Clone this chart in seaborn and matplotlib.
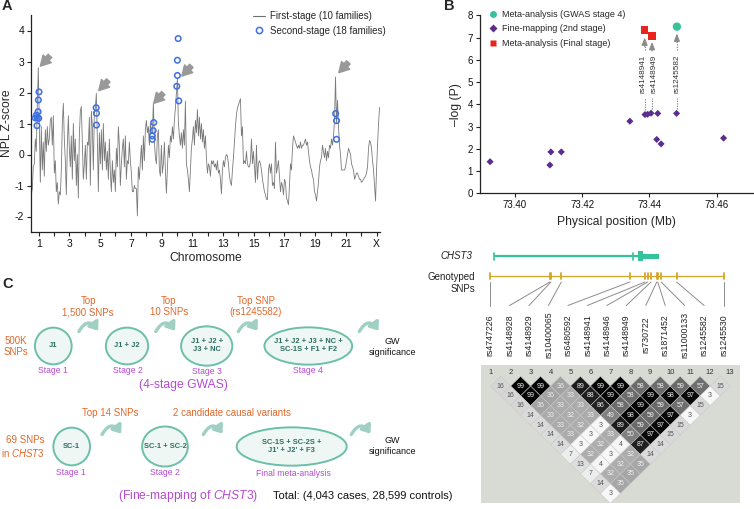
import numpy as np
import pandas as pd
import matplotlib
matplotlib.use("Agg")
import matplotlib.pyplot as plt
import seaborn as sns
from matplotlib.patches import Ellipse, Polygon, Rectangle, FancyArrowPatch
from matplotlib.lines import Line2D

# ---------------- Panel A data ----------------
npl_start, npl_end = 0.52, 23.19
npl_z = [
    -1.3, -1.1, -0.4, -0.3, 0.5, 0.1, 1.6, 2.8, 1.0, -0.9,
    0.9, -0.5, 0.4, -0.7, 0.8, 0.1, 0.9, 0.3, 0.5, 1.1,
    1.2, 0.3, 1.25, -0.6, -0.2, -1.2, -0.9, -1.6, -1.2, -1.3,
    -0.5, 1.0, 1.65, 0.5, -0.2, -1.3, 0.3, 1.25, 0.2, -0.4,
    0.6, -0.8, 1.0, -0.2, 0.5, -1.0, 0.0, -1.4, 0.6, 1.4,
    1.55, 0.4, -0.8, -0.3, 0.3, -0.8, 0.4, 0.3, 1.2, -1.0,
    1.4, 0.9, -0.5, 1.3, 1.5, 1.97, 0.5, -1.2, 0.7, -0.3,
    0.8, -0.5, 1.0, -0.2, 0.4, -0.5, 0.1, -0.8, 0.5, -0.6,
    -1.2, -0.2, -0.9, -0.5, -1.2, 0.2, -0.4, 0.9, 0.3, -1.0,
    -0.3, 0.2, 0.5, -0.4, 0.6, -0.8, -0.2, -0.3, 0.4, -0.2,
    -0.6, -1.2, -1.2, -1.0, -1.1, -1.1, -1.98, -0.4, -0.8, -0.2,
    0.3, -0.5, 0.6, -0.2, 0.8, 1.1, 0.7, 0.9, 0.3, 1.0,
    0.8, 0.7, 1.68, 0.4, -0.1, -0.3, 0.6, 0.8, -0.5, -0.7,
    0.3, -0.6, -0.3, 0.4, -0.5, -1.25, -0.5, 0.3, -0.1, 0.6,
    0.4, 0.9, 0.5, 1.1, 1.5, 2.0, 2.45, 1.0, 0.6, 0.3,
    0.7, 0.2, 0.8, 0.3, 1.72, -0.3, -0.5, -0.8, -1.2, -0.5,
    0.2, 0.5, 0.9, 0.3, 1.1, 0.7, 1.45, 0.6, 1.2, 0.5,
    1.0, 0.4, 0.8, 0.2, 0.6, -0.1, -0.6, -0.3, -0.4, -0.7,
    -0.2, -0.3, -0.2, -0.4, -0.3, -0.5, -0.2, -0.6, -0.5, -0.8,
    -1.27, -0.5, -0.2, -0.4, -0.1, 0.0, -0.05, -0.3, -0.7, -0.9,
    -1.0, -0.5, -0.1, 0.4, 0.9, 1.3, 1.5, 1.6, 1.7, 1.8,
    0.6, 0.9, -0.3, -0.2, -0.3, 0.1, -0.3, -0.4, -0.4, -0.2,
    0.5, -0.3, 0.1, -0.4, -0.9, 0.3, -0.8, -0.3, -0.2, -0.3,
    -0.5, -0.8, -1.0, -1.2, -1.3, -1.45, -1.45, -0.5, -0.3, -0.6,
    -0.3, -1.0, -0.9, -1.1, 0.4, -0.6, -0.4, -0.2, -0.7, -1.2,
    -0.9, -1.0, -1.3, -0.8, -0.9, -1.4, -1.5, -1.62, -1.0, -0.3,
    -0.5, 0.2, 0.6, 0.5, 0.4, 0.3, 0.2, 0.3, 0.2, 0.4,
    0.2, 0.3, 0.3, 0.4, 0.5, 0.3, 0.4, 0.1, -0.2, -0.4,
    -0.5, -0.7, -0.8, -1.2, -1.3, -1.5, -1.2, -0.9, -0.4, -0.2,
    -0.1, 0.3, 0.1, -0.1, 0.2, -0.2, 0.1, -0.1, 0.3, 0.2,
    0.5, 0.3, 0.6, 1.1, 2.5, 1.0, 1.75, 0.9, 0.3, 0.0,
    -0.5, -0.5, -0.5, -0.5, -0.4, -0.2, 0.0, 0.2, 0.1, 0.0,
    -0.3, -0.4, -0.5, -0.8, -0.7, -0.6, -0.6, -0.7, -0.8, -0.8,
    -0.9, -0.85, -0.8, -0.75, -0.7, -0.6, -0.4, 0.2, 0.45, 0.4,
    0.2, -0.2, -0.5, -1.0, -1.5, -0.5, 0.3, 1.0, 1.52,
]
chrom_ticks = list(range(1, 24))
chrom_labels = ['1', '', '3', '', '5', '', '7', '', '9', '', '11', '', '13', '',
                '15', '', '17', '', '19', '', '21', '', 'X']
stage2_pos = [1.02, 0.98, 0.96, 0.85, 0.78, 0.91, 1.00, 0.89, 4.74, 4.76, 4.76,
              8.49, 8.45, 8.40, 8.40, 10.08, 10.03, 10.03, 9.99, 10.12, 20.33, 20.39, 20.39]
stage2_z = [2.02, 1.76, 1.38, 1.27, 1.18, 1.18, 1.17, 0.93, 1.51, 1.33, 0.95,
            1.03, 0.77, 0.60, 0.49, 3.74, 3.04, 2.55, 2.20, 1.73, 1.32, 1.09, 0.49]
peak_arrow_pos = [1.11, 4.91, 8.49, 10.32, 20.54]
peak_arrow_z = [2.85, 2.06, 1.65, 2.53, 2.64]

# ---------------- Panel B data ----------------
snp_names = ['rs4747226', 'rs4148928', 'rs4148929', 'rs10400065', 'rs6480592',
             'rs4148941', 'rs4148946', 'rs4148949', 'rs730722', 'rs1871452',
             'rs11000133', 'rs1245582', 'rs1245530']
snp_pos_mb = [73.3926, 73.4104, 73.4107, 73.4138, 73.4342, 73.4387, 73.4395,
              73.4405, 73.4422, 73.4425, 73.4435, 73.4481, 73.4621]
finemap_logp = [1.42, 1.27, 1.86, 1.86, 3.24, 3.54, 3.55, 3.60, 2.42, 3.59, 2.22, 3.59, 2.48]
final_pos = [73.4386, 73.4408]
final_logp = [7.34, 7.07]
gwas4_pos = [73.4482]
gwas4_logp = [7.49]
hl_names = ['rs4148941', 'rs4148949', 'rs1245582']
hl_pos = [73.4386, 73.4408, 73.4482]
hl_label_shift = [-0.00045, 0.00045, 0.0]
hl_base = [3.54, 3.60, 3.59]
hl_tip = [7.0, 6.8, 7.18]
gene_start, gene_end = 73.3938, 73.4430
gene_marks = [73.3938, 73.4352]
exon_a, exon_b = 73.4366, 73.4381

# LD (r2 x 100), row d = pairs (i, i+d)
ld_rows = [
    [16, 99, 99, 36, 89, 99, 99, 58, 58, 59, 57, 15],
    [16, 99, 36, 33, 88, 99, 58, 99, 98, 97, 3],
    [16, 36, 33, 33, 86, 58, 99, 59, 57, 15],
    [14, 33, 32, 33, 49, 98, 59, 97, 3],
    [14, 33, 32, 3, 89, 59, 97, 15],
    [14, 33, 3, 33, 50, 97, 15],
    [14, 3, 32, 4, 87, 14],
    [7, 32, 3, 32, 14],
    [13, 4, 32, 35],
    [7, 32, 35],
    [14, 35],
    [3],
]

# ---------------- style ----------------
sns.set_theme(style="ticks")
plt.rcParams['font.family'] = ['Liberation Sans', 'DejaVu Sans']
plt.rcParams['axes.unicode_minus'] = False
plt.rcParams['mathtext.fontset'] = 'custom'
plt.rcParams['mathtext.rm'] = 'Liberation Sans'
plt.rcParams['mathtext.it'] = 'Liberation Sans:italic'

W, H = 754, 509
fig = plt.figure(figsize=(W / 100, H / 100), dpi=100)


def px_axes(l, t, r, b):
    return fig.add_axes([l / W, 1 - b / H, (r - l) / W, (b - t) / H])


def style_spines(ax):
    for s in ['top', 'right']:
        ax.spines[s].set_visible(False)
    for s in ['left', 'bottom']:
        ax.spines[s].set_linewidth(0.9)
        ax.spines[s].set_color('#222222')
    ax.tick_params(length=3, width=0.8, color='#222222', pad=2, labelcolor='#111111')


BLUE = '#3e6fe3'
PURPLE = '#5a2d8e'
RED = '#e8251c'
GREEN = '#34c39a'
ORANGE = '#e0682b'
MAGENTA = '#b54bd0'
TEAL_EDGE = '#6dbfa9'
TEAL_FACE = '#eef7f4'
TEAL_TEXT = '#2e6e62'
ARC = '#9fd0c3'

# ---------------- Panel A ----------------
axA = px_axes(31, 15, 380, 232)
dfA = pd.DataFrame({'pos': np.linspace(npl_start, npl_end, len(npl_z)), 'z': npl_z})
sns.lineplot(data=dfA, x='pos', y='z', ax=axA, color='#7a7a7a', lw=0.6,
             estimator=None, sort=False)
dfS = pd.DataFrame({'pos': stage2_pos, 'z': stage2_z})
sns.scatterplot(data=dfS, x='pos', y='z', ax=axA, s=16, linewidth=1.1, zorder=3)
pc = axA.collections[-1]
pc.set_facecolor('none')
pc.set_edgecolor(BLUE)
for x, z in zip(peak_arrow_pos, peak_arrow_z):
    axA.annotate('', xy=(x, z), xytext=(x + 0.62, z + 0.33),
                 arrowprops=dict(arrowstyle='simple,head_length=0.8,head_width=0.9,tail_width=0.38',
                                 color='#999999', shrinkA=0, shrinkB=0, mutation_scale=9))
axA.set_xlim(0.5, 23.22)
axA.set_ylim(-2.5, 4.5)
axA.set_xticks(chrom_ticks)
axA.set_xticklabels(chrom_labels)
axA.set_yticks(range(-2, 5))
style_spines(axA)
axA.tick_params(labelsize=7.5)
axA.set_xlabel('Chromosome', fontsize=8.7, labelpad=2)
axA.set_ylabel('NPL Z-score', fontsize=8.7)
axA.yaxis.set_label_coords(-0.052, 0.5)
hA = [Line2D([], [], color='#707070', lw=0.8),
      Line2D([], [], ls='none', marker='o', ms=4.5, mfc='none', mec=BLUE, mew=1.1)]
axA.legend(hA, ['First-stage (10 families)', 'Second-stage (18 families)'],
           loc='upper left', bbox_to_anchor=(253 / W, 1 - 11 / H),
           bbox_transform=fig.transFigure, frameon=False, fontsize=7,
           handlelength=1.2, handletextpad=0.6, labelspacing=0.5,
           borderpad=0, borderaxespad=0)

# ---------------- Panel B ----------------
axB = px_axes(480, 15.3, 753.5, 193.3)
dfB = pd.DataFrame({'pos': snp_pos_mb, 'logp': finemap_logp})
sns.scatterplot(data=dfB, x='pos', y='logp', ax=axB, marker='D', s=13,
                color=PURPLE, edgecolor='none', zorder=4)
sns.scatterplot(x=final_pos, y=final_logp, ax=axB, marker='s', s=30,
                color=RED, edgecolor='none', zorder=4)
sns.scatterplot(x=gwas4_pos, y=gwas4_logp, ax=axB, marker='o', s=36,
                color=GREEN, edgecolor='none', zorder=4)
for name, x, sh, b, t in zip(hl_names, hl_pos, hl_label_shift, hl_base, hl_tip):
    axB.plot([x, x], [b + 0.2, 4.3], ls=(0, (1, 1)), color='#8a8a8a', lw=0.9, zorder=2)
    axB.plot([x, x], [6.45, t - 0.3], ls=(0, (1, 1)), color='#8a8a8a', lw=0.9, zorder=2)
    axB.annotate('', xy=(x, t), xytext=(x, t - 0.4),
                 arrowprops=dict(arrowstyle='-|>,head_length=0.45,head_width=0.18',
                                 color='#8a8a8a', lw=0.8, shrinkA=0, shrinkB=0,
                                 mutation_scale=10))
    axB.text(x + sh, 5.38, name, rotation=90, ha='center', va='center', fontsize=5.9,
             color='#333333', zorder=3)
axB.set_xlim(73.3896, 73.471)
axB.set_ylim(0, 8)
axB.set_xticks([73.40, 73.42, 73.44, 73.46])
axB.set_xticklabels(['73.40', '73.42', '73.44', '73.46'])
axB.set_yticks(range(0, 9))
style_spines(axB)
axB.tick_params(labelsize=7)
axB.set_xlabel('Physical position (Mb)', fontsize=8.7, labelpad=4)
axB.set_ylabel('\u2013log (P)', fontsize=8.7, labelpad=4)
hB = [Line2D([], [], ls='none', marker='o', ms=5, mfc=GREEN, mec='none'),
      Line2D([], [], ls='none', marker='D', ms=3.6, mfc=PURPLE, mec='none'),
      Line2D([], [], ls='none', marker='s', ms=5, mfc=RED, mec='none')]
axB.legend(hB, ['Meta-analysis (GWAS stage 4)', 'Fine-mapping (2nd stage)',
                'Meta-analysis (Final stage)'],
           loc='upper left', bbox_to_anchor=(489 / W, 1 - 10 / H),
           bbox_transform=fig.transFigure, frameon=False, fontsize=6.5,
           handlelength=0.8, handletextpad=0.6, labelspacing=0.6,
           borderpad=0, borderaxespad=0)

# ---------------- gene / genotyped SNPs ----------------
axG = px_axes(480, 240, 753.5, 365)
axG.set_xlim(axB.get_xlim())
axG.set_ylim(365, 240)
axG.axis('off')
axG.plot([gene_start, gene_end], [256, 256], color=GREEN, lw=1.6, solid_capstyle='butt')
for gm in gene_marks:
    axG.plot([gm, gm], [252.5, 259.5], color=GREEN, lw=1.2)
axG.add_patch(Rectangle((exon_a, 251), exon_b - exon_a, 10, fc=GREEN, ec='none'))
axG.add_patch(Rectangle((exon_b, 253.5), gene_end - exon_b, 5, fc=GREEN, ec='none'))
GOLD = '#d3a62a'
axG.plot([snp_pos_mb[0], snp_pos_mb[-1]], [275.7, 275.7], color=GOLD, lw=0.9)
for p in snp_pos_mb:
    axG.plot([p, p], [272.8, 278.6], color=GOLD, lw=1.3)
label_x = np.linspace(snp_pos_mb[0], snp_pos_mb[-1], len(snp_names))
for p, lx, name in zip(snp_pos_mb, label_x, snp_names):
    axG.plot([p, lx], [282, 305.5], color='#8c8c8c', lw=0.7)
    axG.text(lx, 335, name, rotation=90, ha='center', va='center', fontsize=6.3,
             color='#222222')
fig.text(472 / W, 1 - 256 / H, 'CHST3', ha='right', va='center', style='italic',
         fontsize=7, color='#222222')
fig.text(475 / W, 1 - 276.5 / H, 'Genotyped', ha='right', va='center', fontsize=7,
         color='#222222')
fig.text(475 / W, 1 - 289.5 / H, 'SNPs', ha='right', va='center', fontsize=7,
         color='#222222')

# ---------------- LD triangle ----------------
axLD = px_axes(480.7, 365, 740, 503.3)
axLD.set_facecolor('#d7dbd3')
axLD.set_xlim(0.5, 13.5)
axLD.set_ylim(-6.5, 0.58)
axLD.set_xticks([])
axLD.set_yticks([])
for s in axLD.spines.values():
    s.set_visible(False)
for d, row in enumerate(ld_rows, start=1):
    for i, v in enumerate(row, start=1):
        j = i + d
        cx, cy = (i + j) / 2, -d / 2
        g = 1 - v / 100
        axLD.add_patch(Polygon([(cx, cy + 0.5), (cx + 0.5, cy), (cx, cy - 0.5), (cx - 0.5, cy)],
                               closed=True, fc=(g, g, g), ec='#c6cac6', lw=0.35))
        axLD.text(cx, cy, str(v), ha='center', va='center', fontsize=5,
                  color='#eeeeee' if v >= 30 else '#555555')
for k in range(1, 14):
    axLD.text(k, 0.2, str(k), ha='center', va='center', fontsize=5.5, color='#333333')

# ---------------- Panel C ----------------
axC = px_axes(0, 270, 460, 509)
axC.set_xlim(0, 460)
axC.set_ylim(509, 270)
axC.axis('off')

nodes = [
    (53.3, 346, 36.7, 36.7, 'J1'),
    (127.0, 346, 42.3, 36.7, 'J1 + J2'),
    (206.7, 346, 51.3, 39.3, 'J1 + J2 +\nJ3 + NC'),
    (308.3, 346, 87.7, 37.3, 'J1 + J2 + J3 + NC +\nSC-1S + F1 + F2'),
    (71.7, 446.5, 36.7, 37.7, 'SC-1'),
    (165.0, 446.5, 45.7, 40.0, 'SC-1 + SC-2'),
    (291.7, 446.5, 110.0, 38.3, "SC-1S + SC-2S +\nJ1' + J2' + F3"),
]
for cx, cy, w, h, t in nodes:
    axC.add_patch(Ellipse((cx, cy), w, h, fc=TEAL_FACE, ec=TEAL_EDGE, lw=1.4))
    axC.text(cx, cy, t, ha='center', va='center', fontsize=5.4, weight='bold',
             color=TEAL_TEXT, linespacing=1.2)

arcs = [(88.6, 333), (165.5, 333), (248, 333), (369, 333),
        (111.7, 436), (213, 436), (361, 436)]
for ax_, ay in arcs:
    axC.add_patch(FancyArrowPatch((ax_ - 11, ay + 1), (ax_ + 11, ay), connectionstyle='arc3,rad=-0.9',
                                  arrowstyle='-|>,head_length=0.45,head_width=0.35',
                                  mutation_scale=10, lw=2.4, color=ARC))

for t, x, y in [('Top\n1,500 SNPs', 88.3, 306.7), ('Top\n10 SNPs', 169, 306.7),
                ('Top SNP\n(rs1245582)', 256, 306.7), ('Top 14 SNPs', 110, 413.3),
                ('2 candidate causal variants', 231.7, 413.3), ('500K\nSNPs', 16, 346.7)]:
    axC.text(x, y, t, ha='center', va='center', fontsize=7, color=ORANGE, linespacing=1.2)
axC.text(25, 440, '69 SNPs', ha='center', va='center', fontsize=7, color=ORANGE)
axC.text(23, 452.7, 'in $\\mathit{CHST3}$', ha='center', va='center', fontsize=7, color=ORANGE)

for t, x, y in [('Stage 1', 53.3, 371), ('Stage 2', 127.7, 371), ('Stage 3', 206.7, 372),
                ('Stage 4', 308.3, 371), ('Stage 1', 71, 472.7), ('Stage 2', 165, 472.7),
                ('Final meta-analysis', 293.3, 473.3)]:
    axC.text(x, y, t, ha='center', va='center', fontsize=6.2, color=MAGENTA)

axC.text(183.3, 385.5, '(4-stage GWAS)', ha='center', va='center', fontsize=8.7, color=MAGENTA)
axC.text(188.5, 496, '(Fine-mapping of $\\mathit{CHST3}$)', ha='center', va='center',
         fontsize=8.7, color=MAGENTA)
axC.text(273, 496, 'Total: (4,043 cases, 28,599 controls)', ha='left', va='center',
         fontsize=8, color='#111111')
for y in [347, 446]:
    axC.text(392, y, 'GW\nsignificance', ha='center', va='center', fontsize=6.5,
             color='#111111', linespacing=1.25)

# ---------------- panel letters ----------------
fig.text(2 / W, 1 - 6 / H, 'A', fontsize=10.5, weight='bold', va='center', ha='left')
fig.text(444 / W, 1 - 6 / H, 'B', fontsize=10.5, weight='bold', va='center', ha='left')
fig.text(2 / W, 1 - 284 / H, 'C', fontsize=10.5, weight='bold', va='center', ha='left')

fig.savefig('out.png', dpi=100)
